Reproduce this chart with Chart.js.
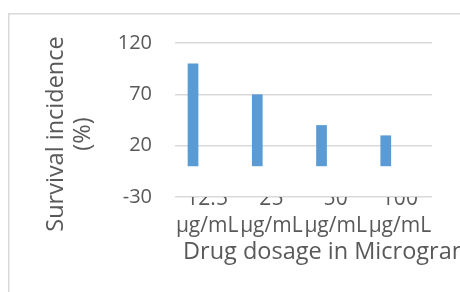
<!DOCTYPE html>
<html>
<head>
<meta charset="utf-8">
<script src="https://cdn.jsdelivr.net/npm/chart.js@4/dist/chart.umd.min.js"></script>
<style>
html,body{margin:0;padding:0;background:#fff;}
#wrap{width:460px;height:292px;position:relative;}
</style>
</head>
<body>
<div id="wrap"><canvas id="c" width="460" height="292"></canvas></div>
<script>
const categories = ['12.5', '25', '50', '100'];
const unitLabel = 'μg/mL';
const survival = [100, 70, 40, 30];
const emptySeries = [null, null, null, null];
const yTicks = [-30, 20, 70, 120];
const xTitle = 'Drug dosage in Microgram';
const yTitleLines = ['Survival incidence', '(%)'];

const FONT = "'Open Sans', sans-serif";
const TXT = '#595959';

const decor = {
  id: 'decor',
  beforeDraw(chart) {
    const ctx = chart.ctx;
    ctx.save();
    ctx.strokeStyle = '#d9d9d9';
    ctx.lineWidth = 1.5;
    ctx.beginPath();
    ctx.moveTo(8.75, 400);
    ctx.lineTo(8.75, 13.75);
    ctx.lineTo(600, 13.75);
    ctx.stroke();
    ctx.restore();
  },
  afterDraw(chart) {
    const ctx = chart.ctx;
    ctx.save();
    ctx.fillStyle = TXT;
    ctx.font = "23.5px " + FONT;
    ctx.textBaseline = 'alphabetic';
    // x-axis title (not width-limited, runs off the right edge like the original)
    ctx.textAlign = 'left';
    ctx.fillText(xTitle, chart.chartArea.left + 8, 259);
    // y-axis title, two lines
    ctx.textAlign = 'center';
    ctx.translate(0, 134);
    ctx.rotate(-Math.PI / 2);
    ctx.fillText(yTitleLines[0], 0, 63);
    ctx.fillText(yTitleLines[1], 0, 90);
    ctx.restore();
  }
};

new Chart(document.getElementById('c'), {
  type: 'bar',
  data: {
    labels: categories.map(c => [c, unitLabel]),
    datasets: [{
      data: survival,
      backgroundColor: '#5b9bd5',
      borderWidth: 0,
      barPercentage: 0.38,
      categoryPercentage: 0.878
    }, {
      data: emptySeries,
      backgroundColor: '#ed7d31',
      borderWidth: 0,
      barPercentage: 0.38,
      categoryPercentage: 0.878
    }]
  },
  options: {
    responsive: false,
    animation: false,
    devicePixelRatio: 1,
    layout: { padding: { top: 43, right: 28, left: 0, bottom: 0 } },
    plugins: { legend: { display: false }, tooltip: { enabled: false } },
    scales: {
      y: {
        min: yTicks[0],
        max: yTicks[yTicks.length - 1],
        afterBuildTicks: s => { s.ticks = yTicks.map(v => ({ value: v })); },
        afterFit: s => { s.width = 175; },
        border: { display: false },
        grid: { color: '#d9d9d9', lineWidth: 1.5, drawTicks: false },
        ticks: { color: TXT, font: { family: FONT, size: 20 }, padding: 23 }
      },
      x: {
        afterFit: s => { s.height = 95; },
        border: { display: false },
        grid: { display: false, drawTicks: false },
        ticks: {
          color: TXT, font: { family: FONT, size: 21, lineHeight: 1.3 },
          padding: -12, maxRotation: 0, minRotation: 0, autoSkip: false
        }
      }
    }
  },
  plugins: [decor]
});
</script>
</body>
</html>
